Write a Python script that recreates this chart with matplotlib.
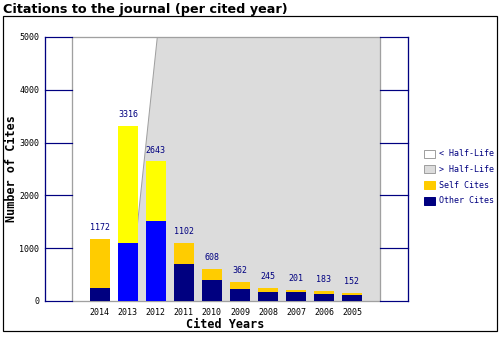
import numpy as np
import matplotlib
matplotlib.use("Agg")
import matplotlib.pyplot as plt
from matplotlib.patches import Rectangle, Polygon

# data
years = ["2014", "2013", "2012", "2011", "2010", "2009", "2008", "2007", "2006", "2005"]
totals = [1172, 3316, 2643, 1102, 608, 362, 245, 201, 183, 152]
other_cites = [250, 1100, 1515, 700, 400, 230, 170, 170, 135, 115]
highlight = [False, True, True, False, False, False, False, False, False, False]
half_life_bottom = 2.05  # x position of the half-life boundary at y=0
half_life_top = 3.05     # x position at y=5000
y_ticks = [0, 1000, 2000, 3000, 4000, 5000]
legend_labels = ["< Half-Life", "> Half-Life", "Self Cites", "Other Cites"]

navy = "#000080"
gold = "#FFCC00"
blue = "#0000FF"
yellow = "#FFFF00"
grey_fill = "#DCDCDC"
grey_edge = "#A0A0A0"
mono = "DejaVu Sans Mono"
px1 = 0.72  # one pixel in points at 100 dpi

W, H = 500, 337
fig = plt.figure(figsize=(W / 100, H / 100), dpi=100)

def fx(px):
    return px / W

def fy(py):
    return 1 - py / H

# outer frame
fig.patches.append(Rectangle((fx(2.5), fy(330.5)), fx(494.5), 314.5 / H, transform=fig.transFigure,
                             fill=False, edgecolor="black", linewidth=px1 * 1.2))
fig.text(fx(3), fy(9), "Citations to the journal (per cited year)", fontsize=9.2,
         fontweight="bold", ha="left", va="center", color="black")

ax = fig.add_axes([fx(45), fy(301), fx(408) - fx(45), (301 - 37) / H])
xmin, xmax = -0.96, 12.0
ax.set_xlim(xmin, xmax)
ax.set_ylim(0, 5000)
for s in ax.spines.values():
    s.set_visible(False)

n = len(years)
x = np.arange(1, n + 1)

# half-life shading
ax.add_patch(Polygon([(half_life_bottom, 0), (half_life_top, 5000), (11, 5000), (11, 0)],
                     closed=True, facecolor=grey_fill, edgecolor="none", zorder=0))
ax.plot([half_life_bottom, half_life_top], [0, 5000], color=grey_edge, linewidth=px1, zorder=1)
ax.add_patch(Rectangle((0, 0), 11, 5000, fill=False, edgecolor=grey_edge, linewidth=px1 * 1.3,
                       zorder=1, clip_on=False))

# side grid wings
for yv in y_ticks:
    ax.plot([xmin, 0], [yv, yv], color=navy, linewidth=px1 * 1.2, zorder=2, clip_on=False)
    ax.plot([11, xmax], [yv, yv], color=navy, linewidth=px1 * 1.2, zorder=2, clip_on=False)
ax.plot([xmin, xmin], [0, 5000], color=navy, linewidth=px1 * 1.3, zorder=2, clip_on=False)
ax.plot([xmax, xmax], [0, 5000], color=navy, linewidth=px1 * 1.3, zorder=2, clip_on=False)

# bars
other = np.array(other_cites)
self_c = np.array(totals) - other
c_other = [blue if h else navy for h in highlight]
c_self = [yellow if h else gold for h in highlight]
ax.bar(x, other, width=0.72, color=c_other, zorder=3)
ax.bar(x, self_c, width=0.72, bottom=other, color=c_self, zorder=3)
for xi, t in zip(x, totals):
    ax.annotate(str(t), (xi, t), xytext=(0, 5), textcoords="offset points", ha="center",
                va="bottom", fontsize=6, family=mono, color=navy)

ax.set_xticks(x)
ax.set_xticklabels(years, family=mono, fontsize=6)
ax.set_yticks(y_ticks)
ax.set_yticklabels([str(v) for v in y_ticks], family=mono, fontsize=6)
ax.tick_params(length=0, pad=4)
ax.tick_params(axis="x", pad=5)

fig.text(fx(225), fy(325), "Cited Years", family=mono, fontweight="bold", fontsize=8.5,
         ha="center", va="center")
fig.text(fx(12), fy(169), "Number of Cites", family=mono, fontweight="bold", fontsize=8.5,
         ha="center", va="center", rotation=90)

# legend
leg_faces = ["white", grey_fill, gold, navy]
leg_edges = [grey_edge, grey_edge, gold, navy]
leg_y = [153.5, 169.5, 185, 200.5]
for lab, fc, ec, yy in zip(legend_labels, leg_faces, leg_edges, leg_y):
    fig.patches.append(Rectangle((fx(424), fy(yy + 4)), 11 / W, 8 / H, transform=fig.transFigure,
                                 facecolor=fc, edgecolor=ec, linewidth=px1))
    fig.text(fx(439), fy(yy), lab, family=mono, fontsize=6, ha="left", va="center", color=navy)

fig.savefig("out.png", dpi=100)
